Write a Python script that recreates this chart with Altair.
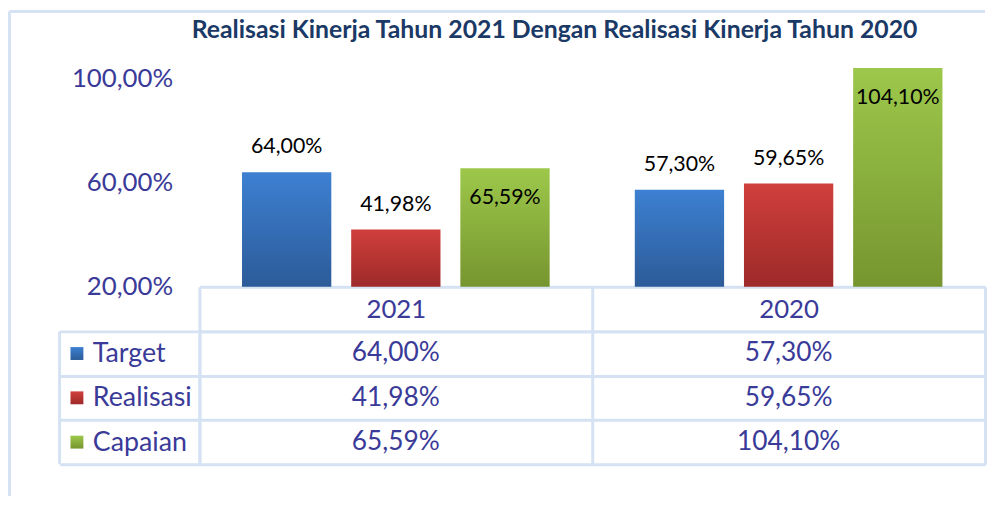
import altair as alt
import pandas as pd

title_text = "Realisasi Kinerja Tahun 2021 Dengan Realisasi Kinerja Tahun 2020"
years = ["2021", "2020"]
series = ["Target", "Realisasi", "Capaian"]
target = [64.00, 57.30]
realisasi = [41.98, 59.65]
capaian = [65.59, 104.10]
y_ticks = [20, 60, 100]

values = {"Target": target, "Realisasi": realisasi, "Capaian": capaian}
rows = []
for s in series:
    for yr, v in zip(years, values[s]):
        rows.append({"year": yr, "series": s, "value": v,
                     "label": f"{v:.2f}".replace(".", ",") + "%"})
df = pd.DataFrame(rows)

LINE = "#d5e2f3"
TXT = "#3a3a98"
TITLE_C = "#1a3966"
FONT = "Lato"


def grad(top, bottom):
    return {"gradient": "linear", "x1": 0, "y1": 0, "x2": 0, "y2": 1,
            "stops": [{"offset": 0, "color": top}, {"offset": 1, "color": bottom}]}


grads = {"Target": grad("#3d80d2", "#2c5b98"),
         "Realisasi": grad("#d03f3c", "#9d2a29"),
         "Capaian": grad("#9dc84b", "#76952f")}

W = 792
H_BAR = 236
H_TAB = 134
HEADER = 45

x_scale = alt.Scale(domain=years, paddingInner=0, paddingOuter=0)
xo_scale = alt.Scale(domain=series, paddingInner=0.182, paddingOuter=0.39)
y_scale = alt.Scale(domain=[20, 110], nice=False, zero=False)

base = alt.Chart(df)
one = pd.DataFrame({"t": [title_text]})

x_enc = alt.X("year:N", scale=x_scale, sort=years,
              axis=alt.Axis(labels=False, ticks=False, domain=True, domainColor=LINE,
                            domainWidth=3, title=None, grid=False))
xo_enc = alt.XOffset("series:N", scale=xo_scale, sort=series)
y_enc = alt.Y("value:Q", scale=y_scale,
              axis=alt.Axis(values=y_ticks,
                            labelExpr="replace(format(datum.value, '.2f'), '.', ',') + '%'",
                            labelFontSize=26, labelColor=TXT, labelFont=FONT, labelPadding=27,
                            ticks=False, domain=False, grid=False, title=None))

bar_layers = []
for s in series:
    bar_layers.append(
        base.transform_filter(alt.datum.series == s).mark_bar().encode(
            x=x_enc, xOffset=xo_enc, y=y_enc, y2=alt.datum(20), fill=alt.value(grads[s])
        )
    )

lab_out = base.transform_filter(alt.datum.series != "Capaian").mark_text(
    dy=-25, fontSize=21.5, color="black", font=FONT, baseline="middle"
).encode(x=x_enc, xOffset=xo_enc, y=y_enc, text="label:N")
lab_in = base.transform_filter(alt.datum.series == "Capaian").mark_text(
    dy=30, fontSize=21.5, color="black", font=FONT, baseline="middle"
).encode(x=x_enc, xOffset=xo_enc, y=y_enc, text="label:N")

title_layer = alt.Chart(one).mark_text(
    fontSize=25, fontWeight="bold", color=TITLE_C, font=FONT, baseline="middle", align="center"
).encode(text="t:N", x=alt.value(358), y=alt.value(-23))

border_left = alt.Chart(one).mark_rule(color=LINE, strokeWidth=3).encode(
    x=alt.value(-191.5), y=alt.value(-41.5), y2=alt.value(H_BAR + 2))
border_top = alt.Chart(one).mark_rule(color=LINE, strokeWidth=3).encode(
    x=alt.value(-191.5), x2=alt.value(W), y=alt.value(-41.5))

bars = alt.layer(border_left, border_top, *bar_layers, lab_out, lab_in, title_layer).properties(
    width=W, height=H_BAR)

tx = alt.X("year:N", scale=x_scale, sort=years,
           axis=alt.Axis(orient="top", title=None, labelFontSize=26, labelColor=TXT, labelFont=FONT,
                         labelAngle=0, labelBaseline="middle", labelPadding=-(HEADER - 22),
                         tickBand="extent", tickSize=HEADER, tickColor=LINE, tickWidth=3,
                         domainColor=LINE, domainWidth=3,
                         grid=True, gridColor=LINE, gridWidth=3, gridOpacity=1))
ty = alt.Y("series:N", scale=alt.Scale(domain=series, paddingInner=0, paddingOuter=0), sort=series,
           axis=alt.Axis(title=None, labelFontSize=27, labelColor=TXT, labelFont=FONT,
                         labelAlign="left", labelPadding=-33,
                         tickBand="extent", tickSize=141, tickColor=LINE, tickWidth=3,
                         domainColor=LINE, domainWidth=3,
                         grid=True, gridColor=LINE, gridWidth=3, gridOpacity=1))

tab_text = base.mark_text(fontSize=26.5, color=TXT, font=FONT, baseline="middle").encode(
    x=tx, y=ty, text="label:N")

sw_df = pd.DataFrame({"series": series})
swatches = []
for s in series:
    swatches.append(
        alt.Chart(sw_df).transform_filter(alt.datum.series == s).mark_point(
            shape="square", size=169, filled=True, opacity=1, strokeWidth=0
        ).encode(x=alt.value(-123.5), y=ty, fill=alt.value(grads[s]))
    )

tab_border = alt.Chart(one).mark_rule(color=LINE, strokeWidth=3).encode(
    x=alt.value(-191.5), y=alt.value(-HEADER - 2), y2=alt.value(H_TAB + 32))
leg_border = alt.Chart(one).mark_rule(color=LINE, strokeWidth=3).encode(
    x=alt.value(-141), y=alt.value(0), y2=alt.value(H_TAB))

table = alt.layer(tab_border, leg_border, tab_text, *swatches).properties(width=W, height=H_TAB)

chart = alt.vconcat(bars, table, spacing=HEADER, bounds="flush").properties(padding=0).configure(
    font=FONT).configure_view(strokeWidth=0)

chart.save("out.html", embed_options={"renderer": "svg", "actions": False})
